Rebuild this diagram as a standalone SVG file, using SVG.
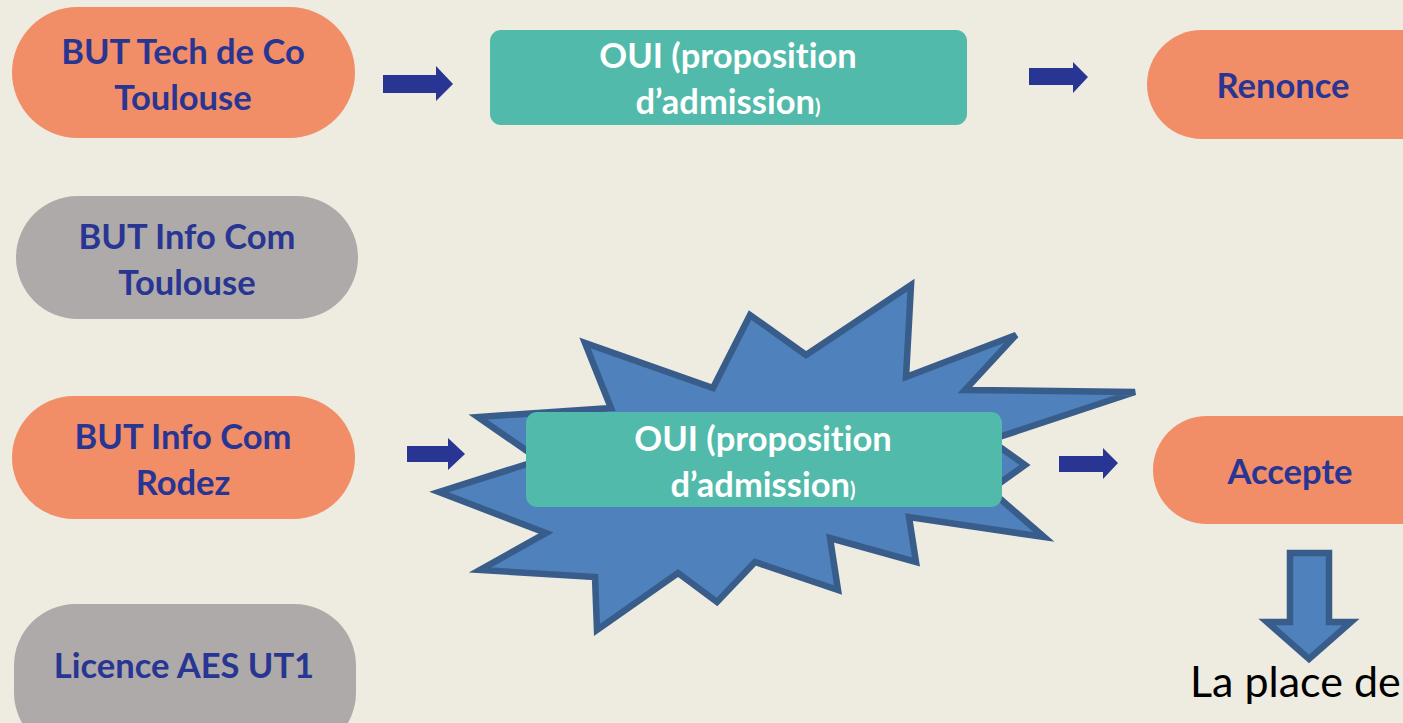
<svg xmlns="http://www.w3.org/2000/svg" width="1403" height="723" viewBox="0 0 1403 723">
<style>
.bg{fill:#EEEBE1}
.orange{fill:#F18D67}
.gray{fill:#AEAAA9}
.teal{fill:#52BAAA}
text{font-variant-ligatures:none}
.lbl{font-family:Lato,"Open Sans",sans-serif;font-weight:bold;font-size:34.5px;fill:#283592;text-anchor:middle}
.wl{font-family:Lato,"Open Sans",sans-serif;font-weight:bold;font-size:34.5px;fill:#FFFFFF;text-anchor:middle}
.arrow{fill:#283592}
.star{fill:#4F81BD;stroke:#385D8A;stroke-width:6.5;stroke-linejoin:miter}
.plain{font-family:Lato,"Open Sans",sans-serif;font-size:43px;fill:#000000}
</style>
<rect class="bg" x="0" y="0" width="1403" height="723"/>
<g id="burst">
<polygon class="star" points="911,285 906,377 1016,335 965,390 1135,392 990,440 1025,465 990,490 1044,537 909,517 916,562 830,538 838,590 755,562 717,602 678,573 597,630 595,577 480,570 546,533 439,492 540,460 478,417 611,408 585,343 713,388 750,315 806,355"/>
</g>
<g id="node-tech-de-co">
<rect class="orange" x="12" y="7" width="343" height="131" rx="65.5"/>
<text class="lbl" x="183" y="64">BUT Tech de Co</text>
<text class="lbl" x="183" y="110">Toulouse</text>
</g>
<g id="node-info-com-toulouse">
<rect class="gray" x="16" y="196" width="342" height="123" rx="61.5"/>
<text class="lbl" x="187" y="249">BUT Info Com</text>
<text class="lbl" x="187" y="295">Toulouse</text>
</g>
<g id="node-info-com-rodez">
<rect class="orange" x="12" y="396" width="343" height="123" rx="61.5"/>
<text class="lbl" x="183" y="449">BUT Info Com</text>
<text class="lbl" x="183" y="495">Rodez</text>
</g>
<g id="node-licence-aes">
<rect class="gray" x="14" y="604" width="342" height="150" rx="61.5"/>
<text class="lbl" x="184" y="678">Licence AES UT1</text>
</g>
<g id="node-oui-top">
<rect class="teal" x="490" y="30" width="477" height="95" rx="11"/>
<text class="wl" x="728" y="68">OUI (proposition</text>
<text class="wl" x="728" y="114">d’admission<tspan font-size="20">)</tspan></text>
</g>
<g id="node-oui-bottom">
<rect class="teal" x="526" y="412" width="476" height="95" rx="11"/>
<text class="wl" x="763" y="451">OUI (proposition</text>
<text class="wl" x="763" y="497">d’admission<tspan font-size="20">)</tspan></text>
</g>
<g id="node-renonce">
<rect class="orange" x="1147" y="30" width="330" height="109" rx="54.5"/>
<text class="lbl" x="1283" y="98">Renonce</text>
</g>
<g id="node-accepte">
<rect class="orange" x="1153" y="416" width="330" height="108" rx="54"/>
<text class="lbl" x="1290" y="484">Accepte</text>
</g>
<g id="connectors">
<polygon class="arrow" points="383,75 436,75 436,66 453,84 436,101 436,93 383,93"/>
<polygon class="arrow" points="1029,68 1073,68 1073,62 1088,77 1073,93 1073,85 1029,85"/>
<polygon class="arrow" points="407,446 448,446 448,438 465,454 448,470 448,462 407,462"/>
<polygon class="arrow" points="1059,456 1103,456 1103,448 1118,463 1103,479 1103,472 1059,472"/>
<polygon class="star" points="1290,553 1329,553 1329,622 1351,622 1309,659 1267,622 1290,622"/>
</g>
<text class="plain" x="1190" y="697">La place de</text>
</svg>
